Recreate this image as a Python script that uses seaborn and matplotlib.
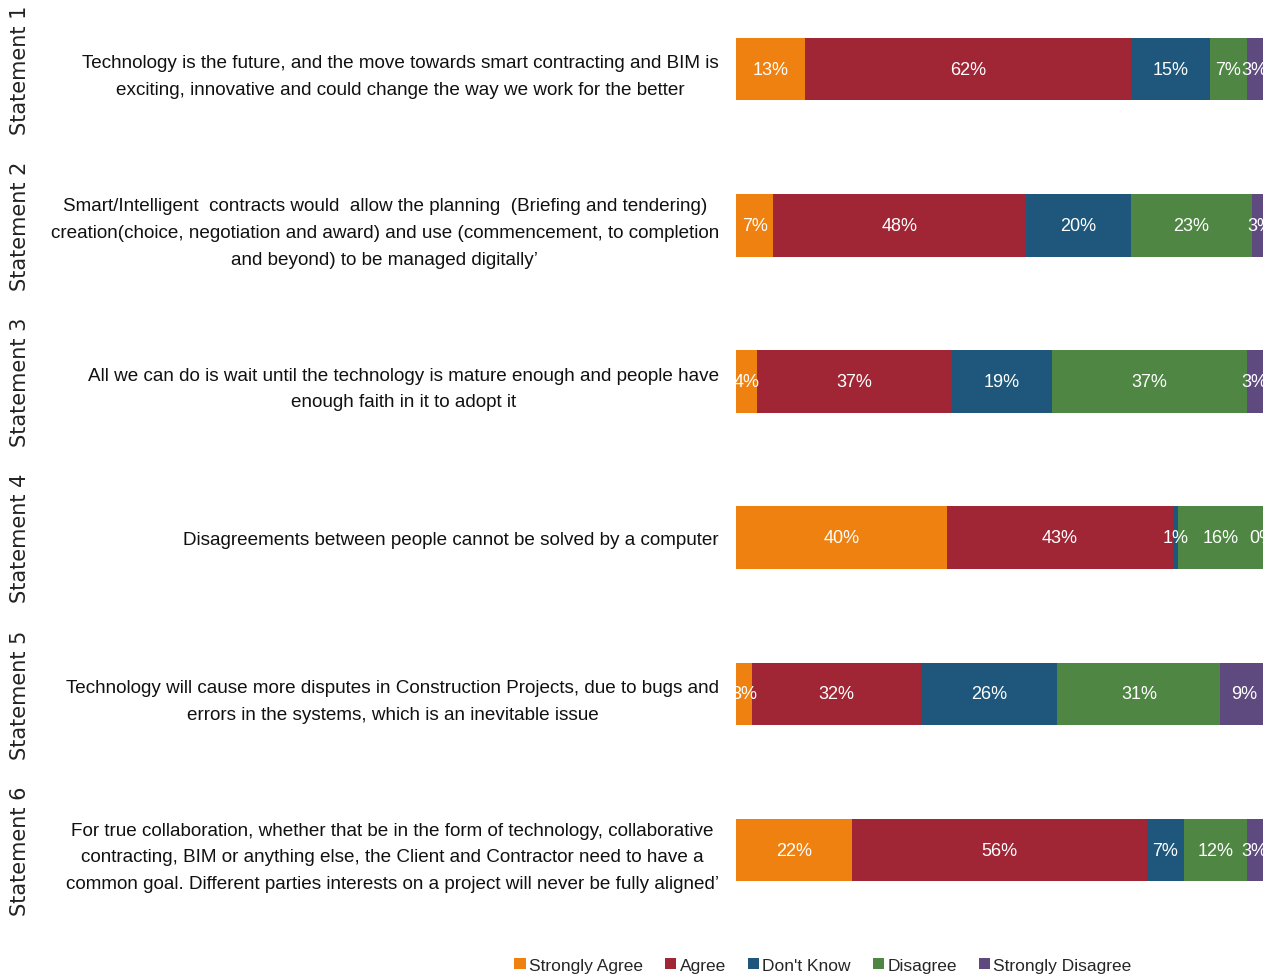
import pandas as pd
import seaborn as sns
import matplotlib.pyplot as plt
import matplotlib.transforms as mtrans
from matplotlib.patches import Patch

# data (percent of respondents)
statement_ids = ['Statement 1', 'Statement 2', 'Statement 3',
                 'Statement 4', 'Statement 5', 'Statement 6']
statements = [
    "Technology is the future, and the move towards smart contracting and BIM is\n"
    "exciting, innovative and could change the way we work for the better",
    "Smart/Intelligent  contracts would  allow the planning  (Briefing and tendering)\n"
    "creation(choice, negotiation and award) and use (commencement, to completion\n"
    "and beyond) to be managed digitally\u2019",
    "All we can do is wait until the technology is mature enough and people have\n"
    "enough faith in it to adopt it",
    "Disagreements between people cannot be solved by a computer",
    "Technology will cause more disputes in Construction Projects, due to bugs and\n"
    "errors in the systems, which is an inevitable issue",
    "For true collaboration, whether that be in the form of technology, collaborative\n"
    "contracting, BIM or anything else, the Client and Contractor need to have a\n"
    "common goal. Different parties interests on a project will never be fully aligned\u2019",
]
responses = ['Strongly Agree', 'Agree', "Don't Know", 'Disagree', 'Strongly Disagree']
strongly_agree = [13, 7, 4, 40, 3, 22]
agree = [62, 48, 37, 43, 32, 56]
dont_know = [15, 20, 19, 1, 26, 7]
disagree = [7, 23, 37, 16, 31, 12]
strongly_disagree = [3, 3, 3, 0, 9, 3]

colors = ['#EE8110', '#A02636', '#1E577B', '#4F8643', '#5E4A7E']

font = ['Liberation Sans', 'DejaVu Sans']

df = pd.DataFrame({'statement': statements,
                   'Strongly Agree': strongly_agree,
                   'Agree': agree,
                   "Don't Know": dont_know,
                   'Disagree': disagree,
                   'Strongly Disagree': strongly_disagree})
cum = df[responses].cumsum(axis=1)

sns.set_style('white')
fig = plt.figure(figsize=(12.74, 9.78), dpi=100)
ax = fig.add_axes([0.578, 0.050, 0.413, 0.958])

# stacked bars: draw cumulative totals from the widest down
for resp, col in reversed(list(zip(responses, colors))):
    sns.barplot(x=cum[resp], y=df['statement'], orient='h', color=col,
                width=0.4, saturation=1, linewidth=0, edgecolor='none', ax=ax)

ax.set_xlim(0, 100)
for i in range(len(df)):
    for resp in responses:
        v = df.loc[i, resp]
        xc = cum.loc[i, resp] - v / 2
        ax.text(xc, i, f'{v}%', color='white', ha='center', va='center',
                fontsize=13, family=font, clip_on=True)

ax.set_xlabel('')
ax.set_ylabel('')
ax.xaxis.set_visible(False)
ax.tick_params(axis='y', left=False, pad=9)
ax.set_yticks(range(len(df)))
ax.set_yticklabels(statements, multialignment='center', fontsize=13.6,
                   family=font, color='#111111', linespacing=1.75)
sns.despine(ax=ax, left=True, bottom=True)

# rotated statement numbers on the far left
tr = mtrans.blended_transform_factory(fig.transFigure, ax.transData)
for i, sid in enumerate(statement_ids):
    ax.text(0.016, i, sid, transform=tr, rotation=90, ha='center', va='center',
            fontsize=15, color='#222222', family='DejaVu Sans')

handles = [Patch(facecolor=c, edgecolor='none', label=r) for r, c in zip(responses, colors)]
fig.legend(handles=handles, loc='center', bbox_to_anchor=(0.646, 0.012), ncol=5,
           frameon=False, handlelength=0.65, handleheight=0.65, handletextpad=0.2,
           columnspacing=1.25, prop={'family': font, 'size': 12.5})

plt.savefig('out.png', dpi=100)
plt.close()
